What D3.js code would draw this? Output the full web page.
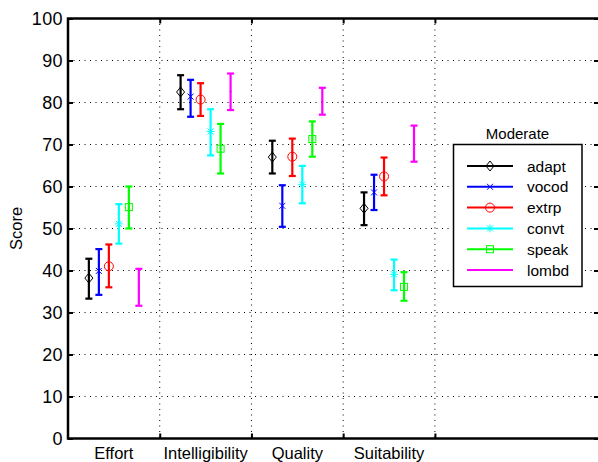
<!DOCTYPE html>
<html>
    <head>
        <meta charset="utf-8">
        <style>
            body { margin: 0; background: #fff; }
            svg { display: block; font-family: "Liberation Sans", Arial, sans-serif; }
            .grid line { stroke: #000; stroke-width: 1; stroke-dasharray: 1,4.5; }
        </style>
        <script src="https://d3js.org/d3.v7.min.js"></script>
    </head>
    <body>
        <svg width="598" height="462"></svg>
        <script>
            // categories and series
            var categories = ["Effort", "Intelligibility", "Quality", "Suitability"];
            var methods = ["adapt", "vocod", "extrp", "convt", "speak", "lombd"];
            var colors = ["#000000", "#0000ff", "#ff0000", "#00ffff", "#00ff00", "#ff00ff"];
            var markers = ["diamond", "x", "circle", "star", "square", "dot"];

            // mean score, one row per method, one column per category
            var means = [
                [38.2, 82.5, 67.0, 54.8],
                [39.9, 81.4, 55.4, 58.6],
                [41.0, 80.7, 67.1, 62.4],
                [51.1, 73.1, 60.5, 39.1],
                [55.1, 69.0, 71.3, 36.1],
                [36.0, 82.6, 80.3, 70.2]
            ];
            var lower = [
                [33.3, 78.4, 63.1, 50.8],
                [34.2, 76.6, 50.4, 54.4],
                [36.0, 76.8, 62.5, 57.9],
                [46.4, 67.4, 56.0, 35.3],
                [50.0, 63.1, 67.1, 32.8],
                [31.6, 78.2, 77.1, 65.9]
            ];
            var upper = [
                [42.8, 86.5, 70.9, 58.6],
                [45.1, 85.4, 60.3, 62.8],
                [46.2, 84.6, 71.4, 66.9],
                [55.8, 78.4, 64.9, 42.6],
                [60.0, 74.9, 75.5, 39.6],
                [40.4, 86.9, 83.5, 74.5]
            ];
            var yTicks = [0, 10, 20, 30, 40, 50, 60, 70, 80, 90, 100];
            var xTicks = [1, 2, 3, 4];

            var svg = d3.select("svg");
            var plotLeft = 68, plotRight = 600, plotTop = 18.5, plotBottom = 438.5;

            var x = d3.scaleLinear().domain([0, 5.8]).range([plotLeft, plotRight]);
            var y = d3.scaleLinear().domain([0, 100]).range([plotBottom, plotTop]);
            var step = 0.109;

            // grid
            var grid = svg.append("g").attr("class", "grid");
            grid.selectAll("line.h").data(yTicks.slice(1, -1)).enter().append("line")
                .attr("x1", plotLeft).attr("x2", plotRight)
                .attr("y1", function(d) { return y(d); }).attr("y2", function(d) { return y(d); });
            grid.selectAll("line.v").data(xTicks).enter().append("line")
                .attr("y1", plotTop).attr("y2", plotBottom)
                .attr("x1", function(d) { return x(d); }).attr("x2", function(d) { return x(d); });

            // axes (left with labels, others as inward tick marks)
            var yAxis = svg.append("g").attr("transform", "translate(" + plotLeft + ",0)")
                .call(d3.axisLeft(y).tickValues(yTicks).tickSize(-5).tickPadding(5));
            yAxis.select(".domain").remove();
            yAxis.selectAll("text").style("font-size", "18px").style("letter-spacing", "0.4px").attr("fill", "#000");

            var yAxisR = svg.append("g").attr("transform", "translate(" + (plotRight - 1) + ",0)")
                .call(d3.axisRight(y).tickValues(yTicks).tickSize(-5).tickFormat(""));
            yAxisR.select(".domain").remove();

            var xAxis = svg.append("g").attr("transform", "translate(0," + plotBottom + ")")
                .call(d3.axisBottom(x).tickValues(xTicks).tickSize(-5).tickFormat(""));
            xAxis.select(".domain").remove();
            var xAxisT = svg.append("g").attr("transform", "translate(0," + plotTop + ")")
                .call(d3.axisTop(x).tickValues(xTicks).tickSize(-5).tickFormat(""));
            xAxisT.select(".domain").remove();
            svg.selectAll(".tick line").attr("stroke", "#000").attr("stroke-width", 2);

            svg.append("rect")
                .attr("x", plotLeft).attr("y", plotTop)
                .attr("width", plotRight - plotLeft).attr("height", plotBottom - plotTop)
                .attr("fill", "none").attr("stroke", "#000").attr("stroke-width", 2.5);

            // category labels centred between grid lines
            svg.append("g").selectAll("text").data(categories).enter().append("text")
                .attr("x", function(d, i) { return x(i + 0.5); })
                .attr("y", 459)
                .attr("text-anchor", "middle")
                .style("font-size", "16.5px")
                .text(function(d) { return d; });

            svg.append("text")
                .attr("transform", "translate(22," + y(50) + ") rotate(-90)")
                .attr("text-anchor", "middle")
                .style("font-size", "16.5px")
                .text("Score");

            function drawMarker(g, type, color) {
                if (type == "diamond") {
                    g.append("path").attr("d", "M0,-5L4,0L0,5L-4,0Z")
                        .attr("fill", "none").attr("stroke", color).attr("stroke-width", 1);
                } else if (type == "x") {
                    g.append("path").attr("d", "M-3,-3L3,3M-3,3L3,-3")
                        .attr("stroke", color).attr("stroke-width", 1);
                } else if (type == "circle") {
                    g.append("circle").attr("r", 4.5)
                        .attr("fill", "none").attr("stroke", color).attr("stroke-width", 1);
                } else if (type == "star") {
                    g.append("path").attr("d", "M-4,0L4,0M0,-4L0,4M-3,-3L3,3M-3,3L3,-3")
                        .attr("stroke", color).attr("stroke-width", 1);
                } else if (type == "square") {
                    g.append("rect").attr("x", -3.5).attr("y", -3.5).attr("width", 7).attr("height", 7)
                        .attr("fill", "none").attr("stroke", color).attr("stroke-width", 1);
                } else {
                    g.append("circle").attr("r", 1).attr("fill", color);
                }
            }

            // error bars
            methods.forEach(function(m, i) {
                var off = (i - 2.5) * step;
                var series = svg.append("g");
                categories.forEach(function(c, j) {
                    var cx = x(j + 0.5 + off);
                    var g = series.append("g");
                    g.append("line").attr("x1", cx).attr("x2", cx)
                        .attr("y1", y(lower[i][j])).attr("y2", y(upper[i][j]))
                        .attr("stroke", colors[i]).attr("stroke-width", 2.2);
                    [lower[i][j], upper[i][j]].forEach(function(v) {
                        g.append("line").attr("x1", cx - 3.5).attr("x2", cx + 3.5)
                            .attr("y1", y(v)).attr("y2", y(v))
                            .attr("stroke", colors[i]).attr("stroke-width", 2.2);
                    });
                    var mk = g.append("g").attr("transform", "translate(" + cx + "," + y(means[i][j]) + ")");
                    drawMarker(mk, markers[i], colors[i]);
                });
            });

            // legend
            var legend = svg.append("g");
            legend.append("rect")
                .attr("x", 453.5).attr("y", 144.5).attr("width", 128.5).attr("height", 142)
                .attr("fill", "#fff").attr("stroke", "#000").attr("stroke-width", 1.5);
            legend.append("text")
                .attr("x", 517.5).attr("y", 138.5)
                .attr("text-anchor", "middle")
                .style("font-size", "15px")
                .text("Moderate");
            methods.forEach(function(m, i) {
                var ly = 166 + i * 20.8;
                legend.append("line").attr("x1", 467).attr("x2", 513)
                    .attr("y1", ly).attr("y2", ly)
                    .attr("stroke", colors[i]).attr("stroke-width", 2);
                var mk = legend.append("g").attr("transform", "translate(490," + ly + ")");
                drawMarker(mk, markers[i], colors[i]);
                legend.append("text")
                    .attr("x", 527).attr("y", ly + 5.5)
                    .style("font-size", "15.5px")
                    .text(m);
            });
        </script>
    </body>
</html>
